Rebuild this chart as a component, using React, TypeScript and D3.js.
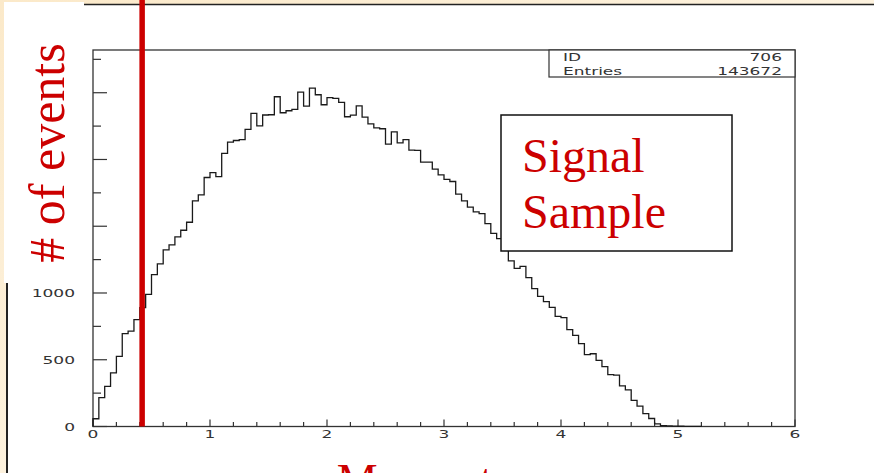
import React from "react";
import * as d3 from "d3";

// ---- data ----
const binWidth = 0.05;
const counts = [
  58, 217, 300, 402, 525, 695, 715, 800, 890, 990,
  1137, 1218, 1323, 1360, 1420, 1470, 1530, 1690, 1735, 1865,
  1902, 1872, 2045, 2130, 2142, 2148, 2225, 2345, 2252, 2333,
  2335, 2470, 2350, 2365, 2375, 2505, 2400, 2535, 2485, 2410,
  2463, 2457, 2428, 2320, 2332, 2402, 2317, 2267, 2237, 2230,
  2115, 2207, 2125, 2148, 2070, 2068, 1980, 1980, 1928, 1885,
  1851, 1835, 1740, 1690, 1643, 1607, 1595, 1520, 1447, 1407,
  1322, 1240, 1185, 1200, 1115, 1032, 975, 935, 892, 825,
  815, 726, 682, 620, 538, 545, 495, 448, 388, 385,
  305, 275, 195, 152, 97, 60, 20, 7, 4, 3,
  2, 1, 1, 1,
];
const xTickLabels = [0, 1, 2, 3, 4, 5, 6];
const yTickLabels = [0, 500, 1000];
const cutValue = 0.42;
const statNames = ["ID", "Entries"];
const statValues = ["706", "143672"];
const yTitle = "# of events";
const xTitle = "Momentum";
const boxLines = ["Signal", "Sample"];

const W = 874;
const H = 473;

export default function App() {
  const x = d3.scaleLinear().domain([0, 6]).range([93, 795]);
  const y = d3.scaleLinear().domain([0, 2820]).range([426.5, 50]);

  const pts: [number, number][] = [[0, 0]];
  counts.forEach((c, i) => pts.push([i * binWidth, c]));
  pts.push([counts.length * binWidth, 0]);
  const histPath =
    d3
      .line<[number, number]>()
      .x((d) => x(d[0]))
      .y((d) => y(d[1]))
      .curve(d3.curveStepAfter)(pts) || "";

  const yTicks = d3.range(0, 2751, 250);
  const xTicks = d3.range(0, 31).map((i) => Math.round(i * 2) / 10);

  const axisColor = "#333";
  const red = "#cc0000";
  const pawFont = "'DejaVu Sans', sans-serif";
  const serif = "'Liberation Serif', 'Times New Roman', serif";

  return (
    <svg
      width={W}
      height={H}
      viewBox={`0 0 ${W} ${H}`}
      style={{ position: "absolute", left: 0, top: 0, display: "block" }}
    >
      <defs>
        <linearGradient id="bg" x1="0" y1="0" x2="1" y2="1">
          <stop offset="0" stopColor="#fbe9c9" />
          <stop offset="0.5" stopColor="#fdf2de" />
          <stop offset="1" stopColor="#fcefd7" />
        </linearGradient>
      </defs>
      <rect x={0} y={0} width={W} height={H} fill="url(#bg)" />
      {/* plot image */}
      <rect x={6} y={4} width={W - 6} height={H - 4} fill="#fff" />
      <line x1={84} x2={W} y1={4.5} y2={4.5} stroke="#222" strokeWidth={1.5} />
      <line x1={7} x2={7} y1={283} y2={H} stroke="#222" strokeWidth={2} />

      {/* frame */}
      <rect
        x={x(0)}
        y={y(2820)}
        width={x(6) - x(0)}
        height={y(0) - y(2820)}
        fill="none"
        stroke={axisColor}
        strokeWidth={1.3}
      />

      {/* y ticks */}
      {yTicks.map((t) => (
        <line
          key={"yt" + t}
          x1={x(0)}
          x2={x(0) + (t % 500 === 0 ? 14 : 8)}
          y1={y(t)}
          y2={y(t)}
          stroke={axisColor}
          strokeWidth={1.2}
        />
      ))}
      {yTickLabels.map((t) => (
        <text
          key={"yl" + t}
          transform={`translate(75,${y(t) + 4}) scale(1.55,1)`}
          textAnchor="end"
          fontFamily={pawFont}
          fontSize={11}
          fill={axisColor}
        >
          {t}
        </text>
      ))}

      {/* x ticks */}
      {xTicks.map((t) => (
        <line
          key={"xt" + t}
          x1={x(t)}
          x2={x(t)}
          y1={y(0)}
          y2={y(0) - (Math.abs(t - Math.round(t)) < 1e-6 ? 7 : 4.5)}
          stroke={axisColor}
          strokeWidth={1.2}
        />
      ))}
      {xTickLabels.map((t) => (
        <text
          key={"xl" + t}
          transform={`translate(${x(t)},438) scale(1.55,1)`}
          textAnchor="middle"
          fontFamily={pawFont}
          fontSize={11}
          fill={axisColor}
        >
          {t}
        </text>
      ))}

      {/* histogram */}
      <path d={histPath} fill="none" stroke="#1a1a1a" strokeWidth={1.3} />

      {/* stats box */}
      <rect x={549} y={50} width={246} height={27} fill="#fff" stroke={axisColor} strokeWidth={1.2} />
      {statNames.map((n, i) => (
        <text
          key={"sn" + n}
          transform={`translate(563,${61 + i * 13.5}) scale(1.7,1)`}
          fontFamily={pawFont}
          fontSize={10}
          fill={axisColor}
        >
          {n}
        </text>
      ))}
      {statValues.map((v, i) => (
        <text
          key={"sv" + v}
          transform={`translate(782,${61 + i * 13.5}) scale(1.7,1)`}
          textAnchor="end"
          fontFamily={pawFont}
          fontSize={10}
          fill={axisColor}
        >
          {v}
        </text>
      ))}

      {/* signal sample box */}
      <rect x={501} y={115} width={231} height={136} fill="#fff" stroke="#111" strokeWidth={1.5} />
      {boxLines.map((l, i) => (
        <text key={l} x={522} y={171.5 + i * 56} fontFamily={serif} fontSize={48} fill={red}>
          {l}
        </text>
      ))}

      {/* y title box */}
      <rect x={4} y={2} width={80} height={281} fill="#fff" />
      <text
        transform="translate(64,153) rotate(-90)"
        textAnchor="middle"
        fontFamily={serif}
        fontSize={50}
        fill={red}
      >
        {yTitle}
      </text>

      {/* cut line */}
      <line x1={x(cutValue)} x2={x(cutValue)} y1={0} y2={y(0)} stroke={red} strokeWidth={5.5} />

      {/* x title (cut off) */}
      <text x={444} y={495.5} textAnchor="middle" fontFamily={serif} fontSize={46} fill={red}>
        {xTitle}
      </text>
    </svg>
  );
}
